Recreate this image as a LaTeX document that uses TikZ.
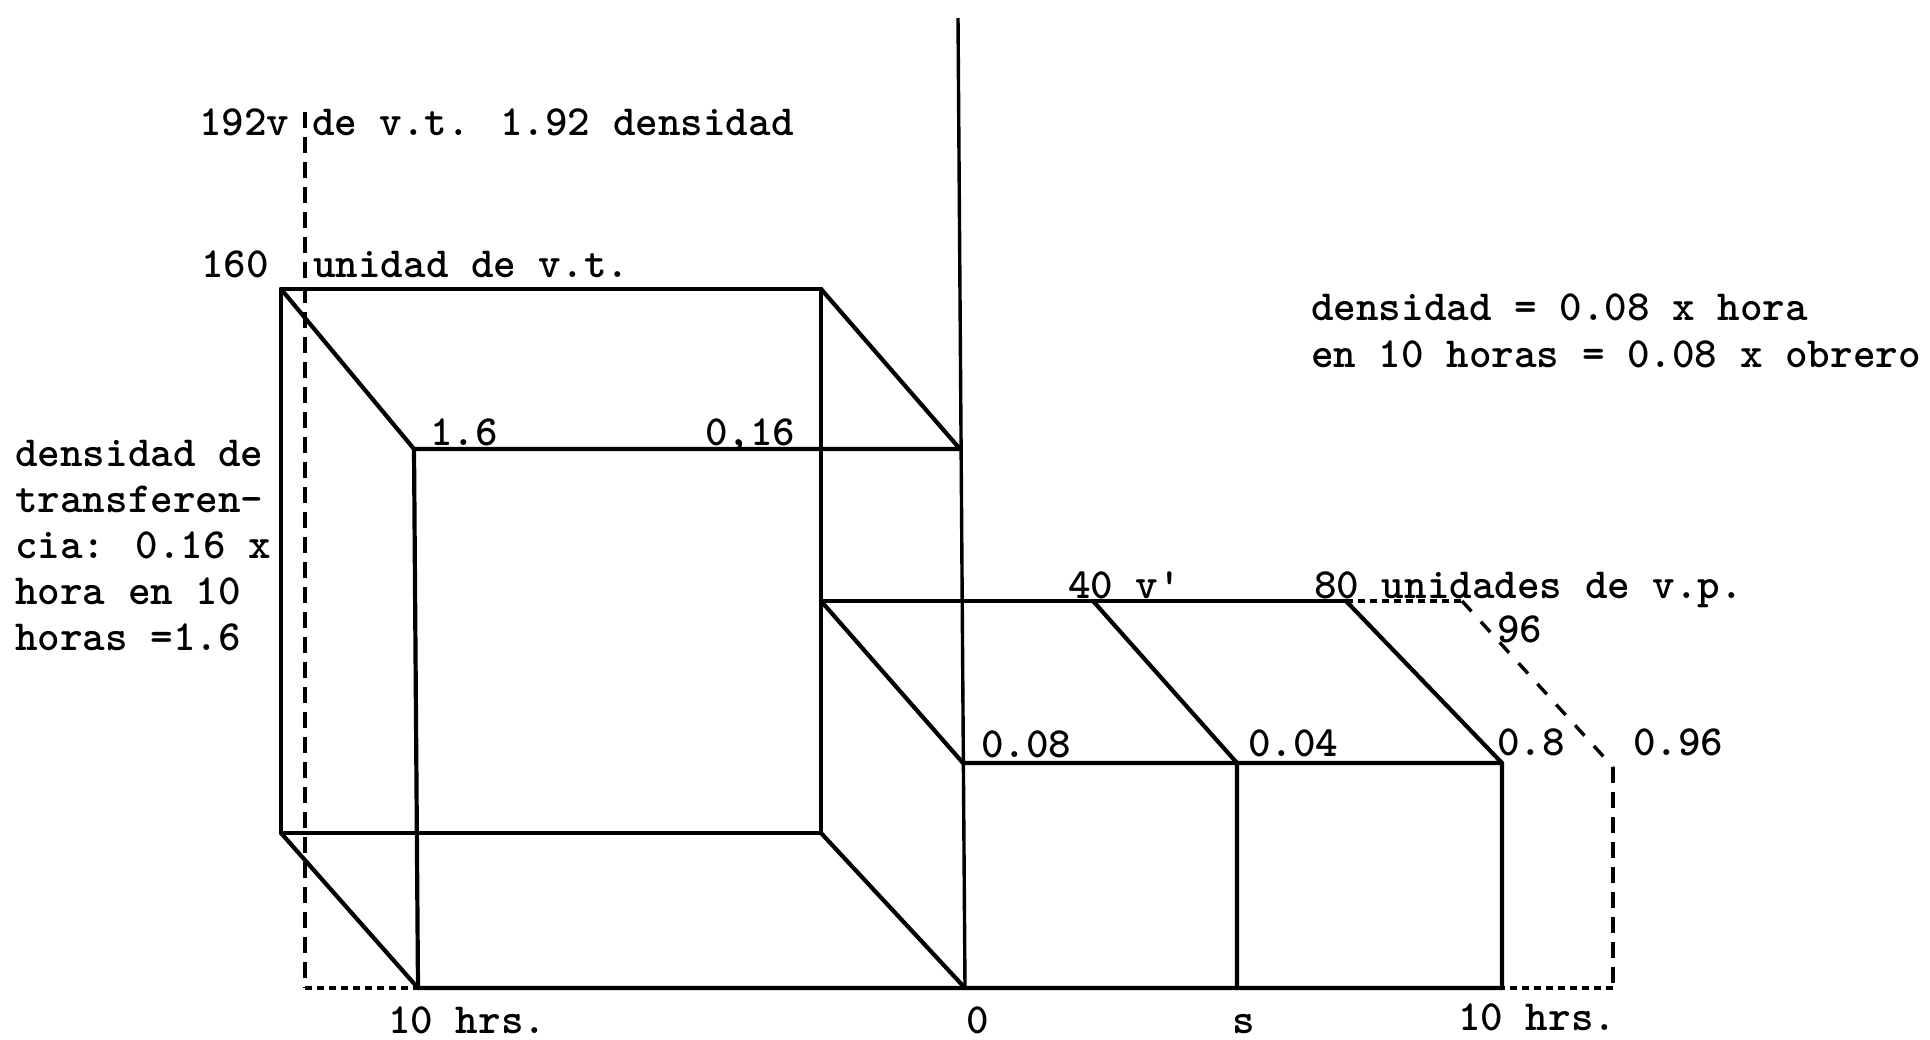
\documentclass[tikz,border=0pt]{standalone}
\newcommand{\twfont}{\fontsize{43pt}{46pt}\selectfont\ttfamily\bfseries}
\begin{document}
\begin{tikzpicture}[x=1pt,y=-1pt,
  edge/.style={line width=4.2pt, line cap=round, line join=round},
  axisline/.style={line width=3.4pt},
  guide/.style={line width=3.4pt, dash pattern=on 16pt off 9pt},
  dotguide/.style={line width=3.4pt, dash pattern=on 7pt off 5pt},
  diagguide/.style={line width=3.4pt, dash pattern=on 14pt off 14pt},
  lbl/.style={font=\twfont, inner sep=0pt, anchor=base west}]
\useasboundingbox[fill=white] (0,0) rectangle (1930,1039);

% corners of the large box
\coordinate (BTL) at (281,289);
\coordinate (BTR) at (821,289);
\coordinate (BBL) at (281,833);
\coordinate (BBR) at (821,833);
\coordinate (FTL) at (414,449);
\coordinate (FTR) at (960,449);
\coordinate (FBL) at (418,988);
\coordinate (FBR) at (965,988);
\coordinate (AXT) at (958,18);
% small boxes
\coordinate (SBL) at (821,601);
\coordinate (SM1) at (1093,601);
\coordinate (SM2) at (1346,601);
\coordinate (SFL) at (963,763);
\coordinate (SF1) at (1237,763);
\coordinate (SF2) at (1502,763);
\coordinate (SB1) at (1237,988);
\coordinate (SB2) at (1502,988);
% dashed guides
\coordinate (DL1) at (305,112);
\coordinate (DL2) at (305,988);
\coordinate (DR1) at (1462,601);
\coordinate (DR2) at (1613,767);
\coordinate (DR3) at (1613,988);

% large box
\draw[edge] (BBL) -- (BTL) -- (BTR) -- (BBR) -- cycle;
\draw[edge] (BTL) -- (FTL) -- (FTR) -- (BTR);
\draw[edge] (BBL) -- (FBL);
\draw[edge] (BBR) -- (FBR);
\draw[edge] (FTL) -- (FBL) -- (FBR) -- (SB1) -- (SB2);
\draw[axisline] (AXT) -- (FBR);
% small boxes
\draw[edge] (SBL) -- (SM2);
\draw[edge] (SBL) -- (SFL) -- (SF2);
\draw[edge] (SM1) -- (SF1) -- (SB1);
\draw[edge] (SM2) -- (SF2) -- (SB2);
% dashed guides
\draw[guide] (DL1) -- (DL2);
\draw[dotguide] (DL2) -- (FBL);
\draw[dotguide] (SM2) -- (DR1);
\draw[diagguide] (DR1) -- (DR2);
\draw[guide] (DR2) -- (DR3);
\draw[dotguide] (DR3) -- (SB2);

% labels
\node[lbl] (t192) at (199,135) {192v de v.t. 1.92 densidad};
\node[lbl] (t160) at (201,277) {160};
\node[lbl] (tunidad) at (313,277) {unidad de v.t.};
\node[lbl] (t16) at (430,445) {1.6};
\node[lbl] (t016) at (705,445) {0,16};
\node[lbl] (tdens1) at (1311,320) {densidad = 0.08 x hora};
\node[lbl] (tdens2) at (1311,367) {en 10 horas = 0.08 x obrero};
\node[font=\twfont, inner sep=0pt, anchor=north west, align=left] (tleft) at (15,440)
  {densidad de\\transferen-\\cia: 0.16 x\\hora en 10\\horas =1.6};
\node[lbl] (t40) at (1068,598) {40 v'};
\node[lbl] (t80) at (1314,598) {80 unidades de v.p.};
\node[lbl] (t96) at (1497,642) {96};
\node[lbl] (t008) at (981,757) {0.08};
\node[lbl] (t004) at (1248,756) {0.04};
\node[lbl] (t08) at (1497,755) {0.8};
\node[lbl] (t096) at (1633,755) {0.96};
\node[lbl] (th1) at (388,1033) {10 hrs.};
\node[lbl] (tzero) at (966,1033) {0};
\node[lbl] (ts) at (1232,1033) {s};
\node[lbl] (th2) at (1458,1030) {10 hrs.};
\end{tikzpicture}
\end{document}
